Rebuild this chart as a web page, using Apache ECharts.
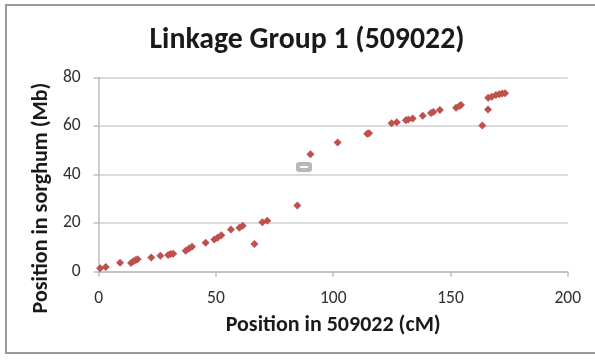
<!DOCTYPE html>
<html>
<head>
<meta charset="utf-8">
<script src="https://cdn.jsdelivr.net/npm/echarts@6/dist/echarts.min.js"></script>
<style>
  html, body { margin: 0; padding: 0; background: #fff; }
  #chart { width: 595px; height: 363px; }
</style>
</head>
<body>
<div id="chart"></div>
<script>
// Genetic map position (cM) vs physical position in sorghum (Mb), linkage group 1
const positionCM = [
  0.6, 3.0, 9.1, 13.8, 14.8, 15.8, 16.6, 22.4, 26.3, 29.6, 30.7, 31.8,
  37.1, 38.5, 39.8, 45.6, 49.3, 50.7, 52.3, 56.4, 60.0, 61.4, 66.4, 69.8,
  71.9, 84.7, 90.3, 101.9, 114.5, 115.3, 124.9, 127.1, 131.0, 132.0, 133.9,
  138.2, 141.7, 142.7, 145.5, 152.4, 153.8, 154.5, 163.6, 166.0, 166.1,
  167.6, 169.4, 170.8, 172.1, 173.3
];
const positionMb = [
  1.4, 1.9, 3.7, 3.6, 4.3, 4.8, 5.1, 5.8, 6.6, 6.9, 7.3, 7.4,
  8.6, 9.5, 10.3, 11.9, 13.3, 14.0, 15.0, 17.4, 18.1, 18.9, 11.4, 20.3,
  21.0, 27.2, 48.3, 53.2, 56.8, 57.0, 61.1, 61.5, 62.3, 62.6, 63.0,
  64.2, 65.3, 65.7, 66.5, 67.5, 68.2, 68.6, 60.2, 66.8, 71.6,
  72.0, 72.7, 73.0, 73.3, 73.4
];
const xTicks = [0, 50, 100, 150, 200];
const yTicks = [0, 20, 40, 60, 80];

const points = positionCM.map((x, i) => [x, positionMb[i]]);
const font = 'Carlito, Calibri, "Open Sans", "Liberation Sans", sans-serif';

const chart = echarts.init(document.getElementById('chart'), null, { renderer: 'canvas' });
chart.setOption({
  animation: false,
  backgroundColor: '#ffffff',
  title: {
    text: 'Linkage Group 1 (509022)',
    left: 302,
    textAlign: 'center',
    top: 21,
    textStyle: { fontFamily: font, fontWeight: 'bold', fontSize: 29.8, color: '#1a1a1a' }
  },
  grid: { left: 98.7, right: 27.3, top: 77.3, bottom: 91.3 },
  xAxis: {
    type: 'value',
    min: xTicks[0],
    max: xTicks[xTicks.length - 1],
    interval: 50,
    name: 'Position in 509022 (cM)',
    nameLocation: 'middle',
    nameGap: 43,
    nameTextStyle: { fontFamily: font, fontWeight: 'bold', fontSize: 22, color: '#1a1a1a' },
    axisLine: { show: true, lineStyle: { color: '#bdbdbd', width: 1.5 } },
    axisTick: { show: true, length: 5, lineStyle: { color: '#bdbdbd', width: 1.5 } },
    axisLabel: { fontFamily: font, fontSize: 17.5, color: '#303030', margin: 18 },
    splitLine: { show: false }
  },
  yAxis: {
    type: 'value',
    min: yTicks[0],
    max: yTicks[yTicks.length - 1],
    interval: 20,
    name: 'Position in sorghum (Mb)',
    nameLocation: 'middle',
    nameGap: 45,
    nameTextStyle: {
      fontFamily: font, fontWeight: 'bold', fontSize: 22, color: '#1a1a1a',
      padding: [0, 47, 0, 0]
    },
    axisLine: { show: true, lineStyle: { color: '#bdbdbd', width: 1.5 } },
    axisTick: { show: true, length: 5, lineStyle: { color: '#bdbdbd', width: 1.5 } },
    axisLabel: { fontFamily: font, fontSize: 17.5, color: '#303030', margin: 18 },
    splitLine: { show: true, lineStyle: { color: '#cfcfcf', width: 1.5 } }
  },
  series: [{
    type: 'scatter',
    data: points,
    symbol: 'diamond',
    symbolSize: 8,
    itemStyle: { color: '#c0504d', opacity: 1 }
  }],
  graphic: [
    {
      type: 'rect',
      shape: { x: 6, y: 5, width: 600, height: 348 },
      style: { fill: 'none', stroke: '#9a9a9a', lineWidth: 2 },
      silent: true
    },
    {
      type: 'rect',
      shape: { x: 296, y: 162, width: 16, height: 10, r: 3 },
      style: { fill: '#b8b8b8', stroke: null },
      silent: true
    },
    {
      type: 'rect',
      shape: { x: 300, y: 166, width: 8, height: 2 },
      style: { fill: '#ffffff', stroke: null },
      silent: true
    }
  ]
});
</script>
</body>
</html>
